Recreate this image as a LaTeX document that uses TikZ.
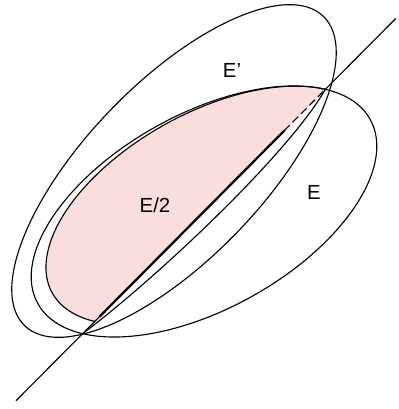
\documentclass[tikz,border=0pt]{standalone}
\usepackage{fontspec}
\setmainfont{Liberation Sans}
\usetikzlibrary{calc}
\definecolor{halfpink}{RGB}{250,221,221}
\tikzstyle{curve} = [line width=0.8pt, black]
\tikzstyle{chord} = [line width=1.6pt, black]
\tikzstyle{tag}   = [font=\fontsize{14.5}{17}\selectfont, inner sep=0pt]

\begin{document}
\begin{tikzpicture}[x=0.025cm, y=0.025cm]
  \useasboundingbox (0,0) rectangle (399,409);

  % Ellipse E, its diameter and the shaded half
  \begin{scope}[shift={(204,197.5)}, rotate=29]
    \coordinate (P1) at (29.5:190 and 97.5);
    \coordinate (P2) at (209.5:190 and 97.5);
    \begin{scope}[scale around={0.95:(29.5:190 and 97.5)}]
      \fill[halfpink] (29.5:190 and 97.5)
        arc[start angle=29.5, end angle=209.5, x radius=190, y radius=97.5] -- cycle;
      \draw[curve] (29.5:190 and 97.5)
        arc[start angle=29.5, end angle=209.5, x radius=190, y radius=97.5];
    \end{scope}
    \draw[curve] (0,0) ellipse (190 and 97.5);
  \end{scope}

  % Ellipse E'
  \draw[curve, rotate around={46:(174,238)}] (174,238) ellipse (215 and 88);

  % Cutting line
  \coordinate (lo) at ($(P2)!-0.275!(P1)$);
  \coordinate (hi) at ($(P1)!-0.29!(P2)$);
  \coordinate (cs) at ($(P2)!0.07!(P1)$);
  \coordinate (ds) at ($(P2)!0.83!(P1)$);
  \draw[curve] (lo) -- (ds);
  \draw[chord] (cs) -- (ds);
  \draw[curve, dash pattern=on 0.2cm off 0.1cm] (ds) -- (P1);
  \draw[curve] (P1) -- (hi);
  \draw[curve] (P1) .. controls +(-38,-66) and +(72,54) .. (P2);

  % Labels
  \node[tag] (eprime) at (232,339) {E'};
  \node[tag] (ebig)   at (314,217) {E};
  \node[tag] (ehalf)  at (155,204) {E/2};

\end{tikzpicture}
\end{document}
